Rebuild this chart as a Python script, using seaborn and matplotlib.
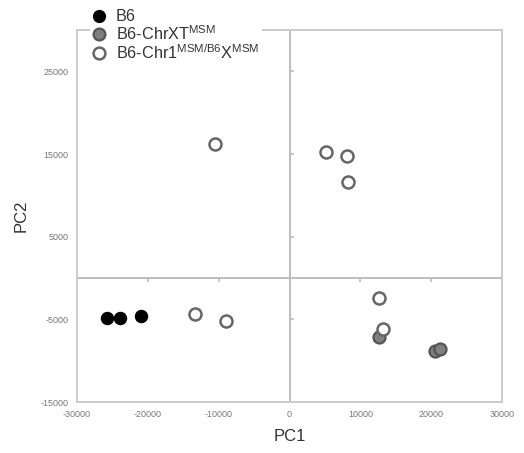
import matplotlib
matplotlib.use("Agg")
import matplotlib.pyplot as plt
import seaborn as sns
import pandas as pd
from matplotlib.lines import Line2D

# ---- data ----
b6_pc1 = [-25800, -24000, -20900]
b6_pc2 = [-4850, -4850, -4600]

chrxt_pc1 = [12600, 20500, 21200]
chrxt_pc2 = [-7100, -8850, -8600]

chr1_pc1 = [-10450, -13400, -8900, 5100, 8050, 8300, 12700, 13250]
chr1_pc2 = [16250, -4300, -5200, 15300, 14800, 11650, -2450, -6200]

groups = ["B6", r"B6-ChrXT$^{\mathrm{MSM}}$", r"B6-Chr1$^{\mathrm{MSM/B6}}$X$^{\mathrm{MSM}}$"]
x_ticks = [-30000, -20000, -10000, 0, 10000, 20000, 30000]
y_ticks = [-15000, -5000, 5000, 15000, 25000]

df = pd.concat([
    pd.DataFrame({"PC1": b6_pc1, "PC2": b6_pc2, "group": groups[0]}),
    pd.DataFrame({"PC1": chrxt_pc1, "PC2": chrxt_pc2, "group": groups[1]}),
    pd.DataFrame({"PC1": chr1_pc1, "PC2": chr1_pc2, "group": groups[2]}),
], ignore_index=True)

sns.set_style("white")
plt.rcParams["font.family"] = ["Liberation Sans", "DejaVu Sans"]
plt.rcParams["mathtext.fontset"] = "custom"
plt.rcParams["mathtext.rm"] = "Liberation Sans"

fig = plt.figure(figsize=(5.24, 4.53), dpi=100)
ax = fig.add_axes([77/524, 1 - 402/453, 425/524, 372/453])

faces = ["#000000", "#7f7f7f", "#ffffff"]
edges = ["#000000", "#555555", "#666666"]
lws = [1.0, 1.6, 1.8]

# zero lines
line_col = "#bdbdbd"
ax.axhline(0, color=line_col, lw=1.4, zorder=1)
ax.axvline(0, color=line_col, lw=1.4, zorder=1)
# small tick marks on the zero lines
xt = [t for t in x_ticks if t not in (0, x_ticks[0], x_ticks[-1])]
yt = [t for t in y_ticks if t != y_ticks[0]]
ax.plot(xt, [0]*len(xt), ls="none", marker=3, ms=3, mew=1.2, color=line_col, zorder=1)
ax.plot([0]*len(yt), yt, ls="none", marker=1, ms=3, mew=1.2, color=line_col, zorder=1)

for i, g in enumerate(groups):
    sub = df[df["group"] == g]
    sns.scatterplot(data=sub, x="PC1", y="PC2", ax=ax, s=75,
                    color=faces[i], edgecolor=edges[i], linewidth=lws[i],
                    zorder=3 + i, legend=False)

ax.set_xlim(-30000, 30000)
ax.set_ylim(-15000, 30000)
ax.set_xticks(x_ticks)
ax.set_yticks(y_ticks)
ax.set_xticklabels([str(t) for t in x_ticks])
ax.set_yticklabels([str(t) for t in y_ticks])
ax.tick_params(axis="both", length=0, labelsize=6.5, labelcolor="#777777", pad=6)

for sp in ax.spines.values():
    sp.set_color("#c8c8c8")
    sp.set_linewidth(1.3)

ax.set_xlabel("PC1", fontsize=12, color="#333333", labelpad=7)
ax.set_ylabel("PC2", fontsize=12, color="#333333", labelpad=9)

handles = [Line2D([0], [0], ls="none", marker="o", ms=8.5,
                  markerfacecolor=faces[i], markeredgecolor=edges[i],
                  markeredgewidth=lws[i]) for i in range(3)]
leg = ax.legend(handles, groups, loc="upper left",
                bbox_to_anchor=(90/524, 1 - 7/453), bbox_transform=fig.transFigure,
                frameon=True, facecolor="white", edgecolor="none", framealpha=1,
                fontsize=11.7, handletextpad=0.65, labelspacing=0.0,
                borderpad=0.15, borderaxespad=0, handlelength=0.8)
for t in leg.get_texts():
    t.set_color("#333333")
leg.set_zorder(10)

fig.savefig("out.png", dpi=100)
